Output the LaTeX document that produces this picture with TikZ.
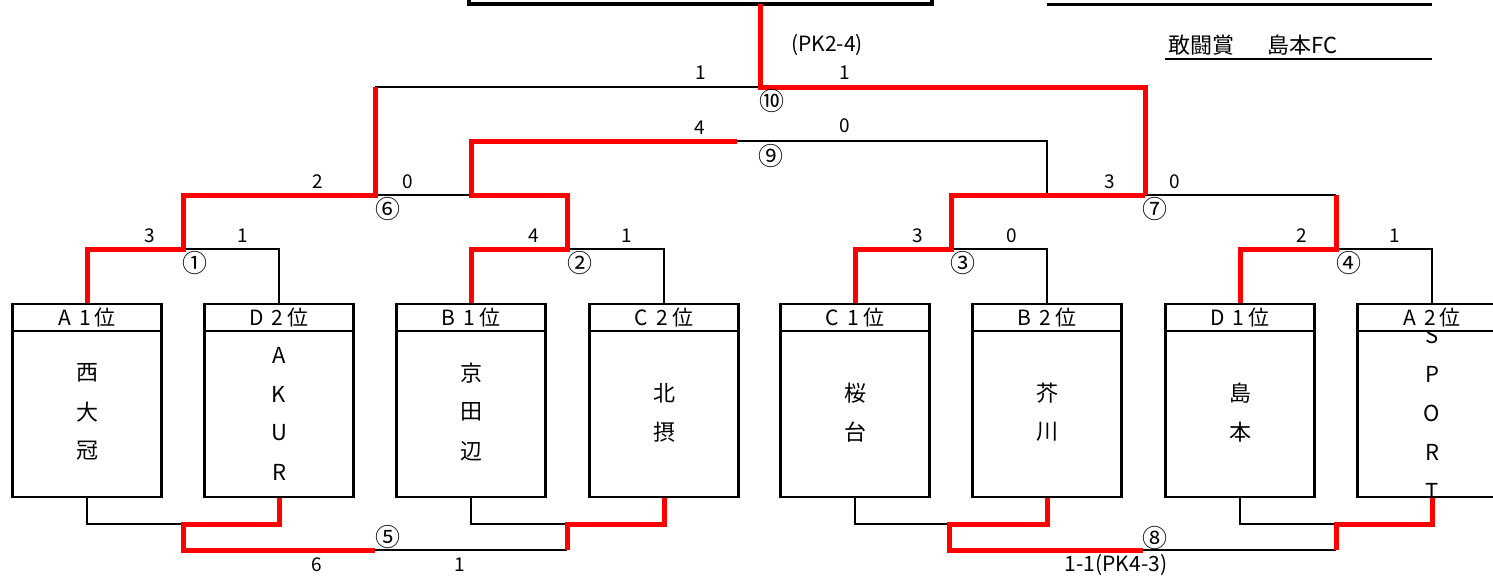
\documentclass[tikz,border=0pt]{standalone}
\usepackage{fontspec}
\setmainfont{Noto Sans CJK JP}
\begin{document}
\begin{tikzpicture}[x=1pt,y=-1pt,
  blk/.style={draw=black,line width=2.5pt},
  redl/.style={draw=red,line width=5pt},
  sc/.style={inner sep=0pt,font=\fontsize{19}{21}\selectfont},
  pk/.style={inner sep=0pt,font=\fontsize{21}{23}\selectfont},
  circ/.style={inner sep=0pt,font=\fontsize{25}{27}\selectfont},
  nm/.style={inner sep=0pt,font=\fontsize{22}{24}\selectfont},
  hdr/.style={draw=black,line width=2.5pt,fill=white,minimum width=149pt,minimum height=27pt,inner sep=0pt,font=\fontsize{21}{23}\selectfont},
  body/.style={draw=black,line width=2.5pt,minimum width=149pt,minimum height=166pt,inner sep=0pt}]
\useasboundingbox (0,0) rectangle (1493,579);
\clip (0,0) rectangle (1493,579);

% champion box and top lines
\coordinate (cbl) at (469,4);
\coordinate (cbr) at (932,4);
\draw[black,line width=4pt] (cbl) ++(0,-20) -- (cbl) -- (cbr) -- ++(0,-20);
\coordinate (champ) at (760,4);
\coordinate (tl1) at (1047,4.5);
\coordinate (tl2) at (1432,4.5);
\draw[black,line width=2.8pt] (tl1) -- (tl2);
\node[anchor=west,inner sep=0pt,font=\fontsize{22}{24}\selectfont] (kanto) at (1168,45) {敢闘賞\hspace{33pt}島本FC};
\coordinate (ul1) at (1165,59);
\coordinate (ul2) at (1432,59);
\draw[black,line width=2.8pt] (ul1) -- (ul2);

% team name letters (drawn first, header covers overflow)
\foreach \c [count=\i] in {西,大,冠} \node[nm] (t1-\i) at (87,373+39*\i-39) {\c};
\foreach \c [count=\i] in {A,K,U,R} \node[nm] (t2-\i) at (279,355+39*\i-39) {\c};
\foreach \c [count=\i] in {京,田,辺} \node[nm] (t3-\i) at (471,373+39*\i-39) {\c};
\foreach \c [count=\i] in {北,摂} \node[nm] (t4-\i) at (664,393+39*\i-39) {\c};
\foreach \c [count=\i] in {桜,台} \node[nm] (t5-\i) at (855,393+39*\i-39) {\c};
\foreach \c [count=\i] in {芥,川} \node[nm] (t6-\i) at (1047,393+39*\i-39) {\c};
\foreach \c [count=\i] in {島,本} \node[nm] (t7-\i) at (1240,393+39*\i-39) {\c};
\foreach \c [count=\i] in {S,P,O,R,T} \node[nm] (t8-\i) at (1432,335+39.2*\i-39.2) {\c};

% boxes
\foreach \x/\t [count=\i] in {87/A\hspace{8pt}1\hspace{4pt}位,279/D\hspace{8pt}2\hspace{4pt}位,471/B\hspace{8pt}1\hspace{4pt}位,664/C\hspace{8pt}2\hspace{4pt}位,855/C\hspace{8pt}1\hspace{4pt}位,1047/B\hspace{8pt}2\hspace{4pt}位,1240/D\hspace{8pt}1\hspace{4pt}位,1432/A\hspace{8pt}2\hspace{4pt}位}{
  \node[body] (b\i) at (\x,414) {};
  \node[hdr] (h\i) at (\x,317.5) {\t};
}

% junctions
\coordinate (m1) at (183,249);
\coordinate (m2) at (567,249);
\coordinate (m3) at (951,249);
\coordinate (m4) at (1336,249);
\coordinate (m6) at (375,195);
\coordinate (m7) at (1145,195);
\coordinate (m9) at (737,141);
\coordinate (m10) at (760,87);
\coordinate (q1) at (471,195);
\coordinate (q2) at (471,141);
\coordinate (q3) at (1047,141);
\coordinate (q4) at (1047,195);
\coordinate (s1) at (183,524);
\coordinate (s2) at (567,524);
\coordinate (s3) at (949,524);
\coordinate (s4) at (1336,524);
\coordinate (m5) at (375,550);
\coordinate (m8) at (1143,550);

% black connectors
\draw[blk] (h2.north) |- (m1);
\draw[blk] (h4.north) |- (m2);
\draw[blk] (h6.north) |- (m3);
\draw[blk] (h8.north) |- (m4);
\draw[blk] (m6) -- (q1);
\draw[blk] (m7) -- (m4 |- m7);
\draw[blk] (m9) -- (q3) -- (q4);
\draw[blk] (m6 |- m10) -- (m10);
\draw[blk] (b1.south) |- (s1);
\draw[blk] (b3.south) |- (s2);
\draw[blk] (m5) -- (s2 |- m5);
\draw[blk] (b5.south) |- (s3);
\draw[blk] (b7.south) |- (s4);
\draw[blk] (m8) -- (s4 |- m8);

% red winner paths
\draw[redl] (h1.north) |- (m1) |- (m6) -- (m6 |- m10);
\draw[redl] (h3.north) |- (m2) -- (m2 |- q1) -- (q1) -- (q2) -- (m9);
\draw[redl] (h5.north) |- (m3) |- (m7);
\draw[redl] (h7.north) |- (m4) -- (m4 |- m7);
\draw[redl] (champ) -- (m10) -| (m7);
\draw[redl] (b2.south) |- (s1) |- (m5);
\draw[redl] (b4.south) |- (s2) -- (s2 |- m5);
\draw[redl] (b6.south) |- (s3) |- (m8);
\draw[redl] (b8.south) |- (s4) -- (s4 |- m8);

% scores and match numbers
\node[pk] (pk10) at (827,45) {(PK2-4)};
\node[sc] (s10a) at (701,73) {1};
\node[sc] (s10b) at (845,73) {1};
\node[circ] (c10) at (772,101) {⑩};
\node[sc] (s9a) at (700,128) {4};
\node[sc] (s9b) at (845,126) {0};
\node[circ] (c9) at (771,156) {⑨};
\node[sc] (s6a) at (318,182) {2};
\node[sc] (s6b) at (408,182) {0};
\node[circ] (c6) at (388,209) {⑥};
\node[sc] (s7a) at (1110,182) {3};
\node[sc] (s7b) at (1175,182) {0};
\node[circ] (c7) at (1155,209) {⑦};
\node[sc] (s1a) at (150,236) {3};
\node[sc] (s1b) at (243,236) {1};
\node[circ] (c1) at (195,263) {①};
\node[sc] (s2a) at (534,236) {4};
\node[sc] (s2b) at (627,236) {1};
\node[circ] (c2) at (580,263) {②};
\node[sc] (s3a) at (918,236) {3};
\node[sc] (s3b) at (1012,236) {0};
\node[circ] (c3) at (963,263) {③};
\node[sc] (s4a) at (1302,236) {2};
\node[sc] (s4b) at (1395,236) {1};
\node[circ] (c4) at (1349,263) {④};
\node[circ] (c5) at (388,537) {⑤};
\node[sc] (s5a) at (317,565) {6};
\node[sc] (s5b) at (460,565) {1};
\node[circ] (c8) at (1155,538) {⑧};
\node[pk] (s8) at (1116,565) {1-1(PK4-3)};
\end{tikzpicture}
\end{document}
